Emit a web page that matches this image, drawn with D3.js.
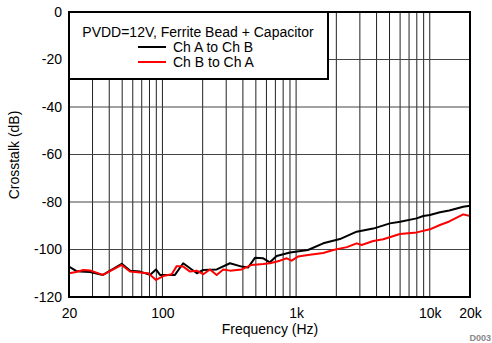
<!DOCTYPE html>
<html><head><meta charset="utf-8">
<script src="https://cdn.jsdelivr.net/npm/d3@7"></script>
<style>body{margin:0;background:#fff}svg{display:block}text{font-family:"Liberation Sans",Arial,sans-serif}</style>
</head><body>
<svg id="c" width="492" height="343"></svg>
<script>
const xTickValues = [20, 100, 1000, 10000, 20000];
const xTickLabels = ["20", "100", "1k", "10k", "20k"];
const yTickValues = [0, -20, -40, -60, -80, -100, -120];
const legendTitle = "PVDD=12V, Ferrite Bead + Capacitor";
const seriesNames = ["Ch A to Ch B", "Ch B to Ch A"];
const seriesColors = ["#000000", "#ff0000"];

const chABFreq = [20,22.6,24.2,28.7,35.9,49.6,57.2,67.9,80.7,89.5,95.9,124,143,181,202,255,320,392,437,492,568,637,715,900,1227,1596,2128,2837,3776,5035,6000,7978,8935,10025,11914,14000,17784,20000];
const chABdB   = [-107.2,-109.0,-109.3,-109.5,-110.7,-106.0,-108.9,-109.3,-110.7,-108.4,-110.7,-110.7,-105.8,-110.0,-108.6,-108.4,-105.8,-107.2,-107.6,-103.5,-103.7,-105.4,-102.7,-101.3,-100.2,-97.4,-95.6,-92.5,-91.2,-89.0,-88.3,-86.9,-85.9,-85.5,-84.3,-83.6,-82.0,-81.6];

const chBAFreq = [20,22.6,25.6,28.7,35.9,49.6,57.2,78.4,89.5,101.5,117.3,127.9,143.3,160.8,180.4,202,226.8,254.6,285.2,320,391.5,464.6,568,637,757,850,927,1038,1227,1597,1897,2400,2837,3091,3776,4488,5985,8000,10025,11914,14000,17784,20000];
const chBAdB   = [-110.0,-109.5,-108.6,-108.8,-110.7,-106.5,-109.3,-110.0,-112.8,-111.2,-110.4,-107.0,-107.2,-109.3,-108.9,-110.4,-108.4,-110.7,-108.4,-108.9,-108.4,-106.5,-106.1,-105.8,-104.7,-103.7,-104.7,-102.9,-102.3,-101.5,-100.2,-99.0,-97.4,-98.1,-96.4,-95.7,-93.5,-92.8,-91.5,-89.7,-88.2,-85.2,-85.9];

const svg = d3.select("#c");
const L = 69, R = 470, T = 12, B = 297;
const FS = 14;
const x = d3.scaleLog().domain([20, 20000]).range([L, R]);
const y = d3.scaleLinear().domain([-120, 0]).range([B, T]);

// grid
const gridX = [];
[10, 100, 1000, 10000].forEach(d => { for (let k = 1; k <= 9; k++) { const v = d * k; if (v > 20 && v < 20000) gridX.push(v); } });
svg.append("g").selectAll("line").data(gridX).join("line")
  .attr("x1", d => x(d)).attr("x2", d => x(d)).attr("y1", T).attr("y2", B)
  .attr("stroke", "#222").attr("stroke-width", 1);
svg.append("g").selectAll("line").data(yTickValues.filter(v => v > -120 && v < 0)).join("line")
  .attr("x1", L).attr("x2", R).attr("y1", d => y(d)).attr("y2", d => y(d))
  .attr("stroke", "#444").attr("stroke-width", 1);

// series
const line = d3.line().x(d => x(d[0])).y(d => y(d[1]));
const sAB = chABFreq.map((f, i) => [f, chABdB[i]]);
const sBA = chBAFreq.map((f, i) => [f, chBAdB[i]]);
svg.append("path").datum(sAB).attr("d", line).attr("fill", "none").attr("stroke", seriesColors[0]).attr("stroke-width", 2).attr("stroke-linejoin", "round");
svg.append("path").datum(sBA).attr("d", line).attr("fill", "none").attr("stroke", seriesColors[1]).attr("stroke-width", 2).attr("stroke-linejoin", "round");

// legend box
svg.append("rect").attr("x", L).attr("y", T).attr("width", 259).attr("height", 67)
  .attr("fill", "#fff").attr("stroke", "#000").attr("stroke-width", 2);
svg.append("text").attr("x", 198).attr("y", 37).attr("text-anchor", "middle").attr("font-size", FS).text(legendTitle);
seriesNames.forEach((n, i) => {
  const yy = 47 + i * 15;
  svg.append("line").attr("x1", 138).attr("x2", 166).attr("y1", yy).attr("y2", yy).attr("stroke", seriesColors[i]).attr("stroke-width", 2);
  svg.append("text").attr("x", 173).attr("y", yy + 5).attr("font-size", FS).text(n);
});

// plot border
svg.append("rect").attr("x", L).attr("y", T).attr("width", R - L).attr("height", B - T)
  .attr("fill", "none").attr("stroke", "#000").attr("stroke-width", 2);

// axes labels
const xa = d3.axisBottom(x).tickValues(xTickValues).tickFormat((d, i) => xTickLabels[i]).tickSize(0).tickPadding(11);
const gx = svg.append("g").attr("transform", `translate(0,${B})`).call(xa);
gx.select(".domain").remove();
gx.selectAll("text").attr("font-size", FS).attr("font-family", "Liberation Sans, Arial, sans-serif").attr("fill", "#000");
const ya = d3.axisLeft(y).tickValues(yTickValues).tickFormat(d => String(d)).tickSize(0).tickPadding(7);
const gy = svg.append("g").attr("transform", `translate(${L},0)`).call(ya);
gy.select(".domain").remove();
gy.selectAll("text").attr("font-size", FS).attr("font-family", "Liberation Sans, Arial, sans-serif").attr("fill", "#000");

svg.append("text").attr("x", 270).attr("y", 334).attr("text-anchor", "middle").attr("font-size", FS).text("Frequency (Hz)");
svg.append("text").attr("transform", "translate(19,155) rotate(-90)").attr("text-anchor", "middle").attr("font-size", FS).text("Crosstalk (dB)");
svg.append("text").attr("x", 491).attr("y", 341).attr("text-anchor", "end").attr("font-size", 9).attr("font-weight", "bold").attr("fill", "#888").text("D003");
</script>
</body></html>
